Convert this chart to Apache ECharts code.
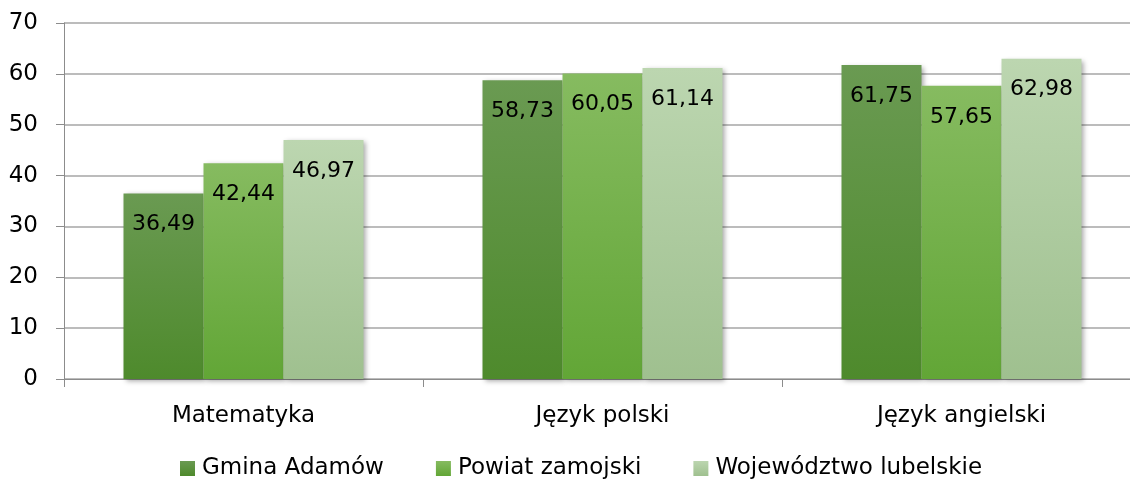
<!DOCTYPE html>
<html>
<head>
<meta charset="utf-8">
<script src="https://cdn.jsdelivr.net/npm/echarts@6/dist/echarts.min.js"></script>
<style>
  html, body { margin: 0; padding: 0; background: #fff; overflow: hidden; }
  #chart { width: 1145px; height: 483px; }
</style>
</head>
<body>
<div id="chart"></div>
<script>
// dane
var categories = ['Matematyka', 'Język polski', 'Język angielski'];
var seriesNames = ['Gmina Adamów', 'Powiat zamojski', 'Województwo lubelskie'];
var gmina = [36.49, 58.73, 61.75];
var powiat = [42.44, 60.05, 57.65];
var wojewodztwo = [46.97, 61.14, 62.98];

var FONT = 'DejaVu Sans';

function grad(top, bottom) {
	return new echarts.graphic.LinearGradient(0, 0, 0, 1, [
		{offset: 0, color: top},
		{offset: 1, color: bottom}
	]);
}

function makeSeries(name, data, top, bottom) {
	return {
		name: name,
		type: 'bar',
		data: data,
		barGap: '0%',
		barWidth: 80,
		itemStyle: {
			color: grad(top, bottom),
			shadowColor: 'rgba(0,0,0,0.35)',
			shadowBlur: 5,
			shadowOffsetX: 2,
			shadowOffsetY: 2
		},
		label: {
			show: true,
			position: 'insideTop',
			distance: 20,
			color: '#000',
			fontFamily: FONT,
			fontSize: 22,
			formatter: function(p) {
				return p.value.toFixed(2).replace('.', ',');
			}
		}
	};
}

var myChart = echarts.init(document.getElementById('chart'));
var options = {
	animation: false,
	legend: {
		top: 457,
		left: 180,
		padding: 0,
		itemWidth: 15,
		itemHeight: 15,
		itemGap: 52,
		icon: 'rect',
		textStyle: {fontFamily: FONT, fontSize: 23, color: '#000', padding: [0, 0, 0, 2]},
		data: [
			{name: seriesNames[0], itemStyle: {color: grad('#6a9a52', '#4e8a2c')}},
			{name: seriesNames[1], itemStyle: {color: grad('#86bb60', '#62a636')}},
			{name: seriesNames[2], itemStyle: {color: grad('#bcd6b0', '#9fc08f')}}
		]
	},
	grid: {
		left: 64,
		top: 23,
		width: 1077,
		height: 356,
		containLabel: false
	},
	xAxis: {
		type: 'category',
		data: categories,
		axisLine: {lineStyle: {color: '#8c8c8c', width: 1}},
		axisTick: {show: true, length: 8, lineStyle: {color: '#8c8c8c'}},
		axisLabel: {fontFamily: FONT, fontSize: 23, color: '#000', margin: 26}
	},
	yAxis: {
		type: 'value',
		min: 0,
		max: 70,
		interval: 10,
		axisLine: {show: true, lineStyle: {color: '#8c8c8c', width: 1}},
		axisTick: {show: true, length: 8, lineStyle: {color: '#8c8c8c'}},
		axisLabel: {fontFamily: FONT, fontSize: 23, color: '#000', margin: 26},
		splitLine: {lineStyle: {color: '#a6a6a6', width: 1.5}}
	},
	series: [
		makeSeries(seriesNames[0], gmina, '#6a9a52', '#4e8a2c'),
		makeSeries(seriesNames[1], powiat, '#86bb60', '#62a636'),
		makeSeries(seriesNames[2], wojewodztwo, '#bcd6b0', '#9fc08f')
	]
};
myChart.setOption(options);
</script>
</body>
</html>
